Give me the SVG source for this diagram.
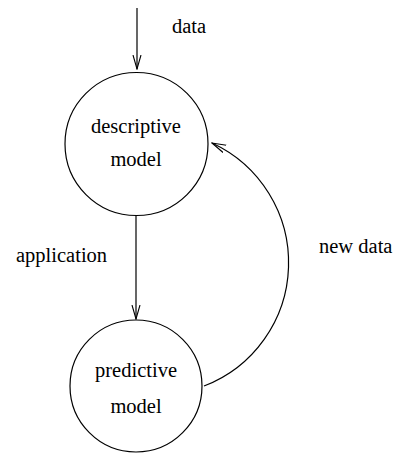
<svg xmlns="http://www.w3.org/2000/svg" width="399" height="456" viewBox="0 0 399 456">
  <style>
    .node { fill: none; stroke: #000; stroke-width: 1.2; }
    .edge { fill: none; stroke: #000; stroke-width: 1.2; }
    .label { font-family: "Liberation Serif", "Times New Roman", serif; font-size: 20.5px; fill: #000; }
  </style>
  <defs>
    <!-- open V arrowhead shared by all connectors -->
    <marker id="open-arrow" viewBox="0 0 15 10" refX="14" refY="5" markerWidth="15" markerHeight="10" markerUnits="userSpaceOnUse" orient="auto">
      <path d="M0,1 L14,5 L0,9" fill="none" stroke="#000" stroke-width="1.1"/>
    </marker>
  </defs>
  <rect width="399" height="456" fill="#fff"/>

  <g id="connectors">
    <line class="edge" x1="137" y1="8" x2="137" y2="69" marker-end="url(#open-arrow)"/>
    <line class="edge" x1="136" y1="216" x2="136" y2="319" marker-end="url(#open-arrow)"/>
    <path class="edge" d="M204,386 A132,132 0 0 0 212,143" marker-end="url(#open-arrow)"/>
    <text class="label" x="172" y="33">data</text>
    <text class="label" x="16" y="262">application</text>
    <text class="label" x="319" y="253">new data</text>
  </g>

  <g id="descriptive-model">
    <circle class="node" cx="136.5" cy="144" r="71.5"/>
    <text class="label" x="136" y="133" text-anchor="middle">descriptive</text>
    <text class="label" x="136" y="166" text-anchor="middle">model</text>
  </g>

  <g id="predictive-model">
    <circle class="node" cx="136" cy="386" r="66"/>
    <text class="label" x="136" y="377" text-anchor="middle">predictive</text>
    <text class="label" x="136" y="413" text-anchor="middle">model</text>
  </g>
</svg>
